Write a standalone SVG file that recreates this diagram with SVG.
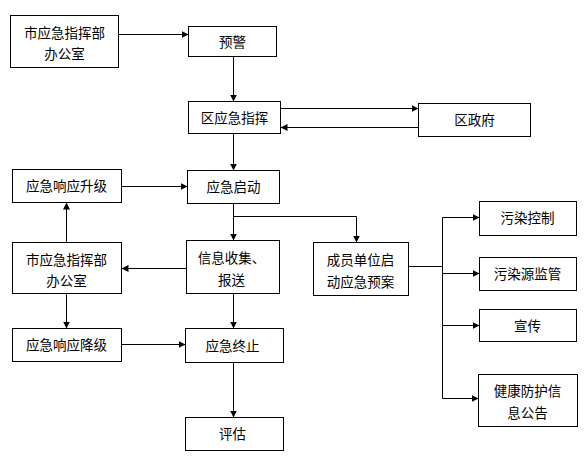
<svg xmlns="http://www.w3.org/2000/svg" width="588" height="462" viewBox="0 0 588 462">
<style>
rect{fill:#fff;stroke:#000;stroke-width:1}
text{font-family:"Noto Sans CJK SC","Noto Sans",sans-serif;font-size:13.5px;fill:#000;text-anchor:middle}
.c path,.c line,.c polyline{fill:none;stroke:#000;stroke-width:1}
</style>
<defs>
<marker id="a" markerUnits="userSpaceOnUse" markerWidth="8" markerHeight="8" refX="7" refY="4" orient="auto">
<path d="M0,0.5 L7,4 L0,7.5 z" fill="#000"/>
</marker>
</defs>
<rect width="588" height="462" style="stroke:none"/>
<g transform="translate(0.5,0.5)">
<g class="c">
<line x1="118" y1="34" x2="188" y2="34" marker-end="url(#a)"/>
<line x1="233" y1="56" x2="233" y2="101" marker-end="url(#a)"/>
<line x1="280" y1="108" x2="418" y2="108" marker-end="url(#a)"/>
<line x1="418" y1="127" x2="280" y2="127" marker-end="url(#a)"/>
<line x1="233" y1="133" x2="233" y2="170" marker-end="url(#a)"/>
<line x1="121" y1="186" x2="187" y2="186" marker-end="url(#a)"/>
<line x1="233" y1="203" x2="233" y2="240" marker-end="url(#a)"/>
<polyline points="233,216 356,216 356,242" marker-end="url(#a)"/>
<line x1="186" y1="268" x2="121" y2="268" marker-end="url(#a)"/>
<line x1="66" y1="242" x2="66" y2="202" marker-end="url(#a)"/>
<line x1="66" y1="293" x2="66" y2="328" marker-end="url(#a)"/>
<line x1="121" y1="344" x2="185" y2="344" marker-end="url(#a)"/>
<line x1="233" y1="293" x2="233" y2="328" marker-end="url(#a)"/>
<line x1="233" y1="362" x2="233" y2="417" marker-end="url(#a)"/>
<line x1="408" y1="266" x2="442" y2="266"/>
<line x1="442" y1="217" x2="442" y2="398"/>
<line x1="442" y1="217" x2="479" y2="217" marker-end="url(#a)"/>
<line x1="442" y1="273" x2="479" y2="273" marker-end="url(#a)"/>
<line x1="442" y1="325" x2="479" y2="325" marker-end="url(#a)"/>
<line x1="442" y1="398" x2="478" y2="398" marker-end="url(#a)"/>
</g>
<g id="n1"><rect x="10" y="15" width="108" height="52"/><text x="64" y="37">市应急指挥部</text><text x="64" y="58">办公室</text></g>
<g id="n2"><rect x="188" y="26" width="88" height="30"/><text x="232" y="46">预警</text></g>
<g id="n3"><rect x="188" y="101" width="92" height="32"/><text x="234" y="122">区应急指挥</text></g>
<g id="n4"><rect x="418" y="103" width="112" height="33"/><text x="474" y="124">区政府</text></g>
<g id="n5"><rect x="12" y="169" width="109" height="33"/><text x="66" y="190">应急响应升级</text></g>
<g id="n6"><rect x="187" y="170" width="92" height="33"/><text x="233" y="191">应急启动</text></g>
<g id="n7"><rect x="12" y="242" width="109" height="51"/><text x="66" y="264">市应急指挥部</text><text x="66" y="285">办公室</text></g>
<g id="n8"><rect x="186" y="240" width="93" height="53"/><text x="231" y="262">信息收集、</text><text x="231" y="284">报送</text></g>
<g id="n9"><rect x="313" y="242" width="95" height="53"/><text x="360" y="264">成员单位启</text><text x="360" y="286">动应急预案</text></g>
<g id="n10"><rect x="12" y="328" width="109" height="33"/><text x="66" y="349">应急响应降级</text></g>
<g id="n11"><rect x="185" y="328" width="98" height="34"/><text x="232" y="350">应急终止</text></g>
<g id="n12"><rect x="185" y="417" width="98" height="33"/><text x="232" y="438">评估</text></g>
<g id="n13"><rect x="479" y="201" width="97" height="34"/><text x="527" y="222">污染控制</text></g>
<g id="n14"><rect x="479" y="257" width="97" height="33"/><text x="527" y="278">污染源监管</text></g>
<g id="n15"><rect x="479" y="309" width="97" height="32"/><text x="527" y="330">宣传</text></g>
<g id="n16"><rect x="478" y="374" width="99" height="52"/><text x="527" y="395">健康防护信</text><text x="527" y="417">息公告</text></g>
</g>
</svg>
